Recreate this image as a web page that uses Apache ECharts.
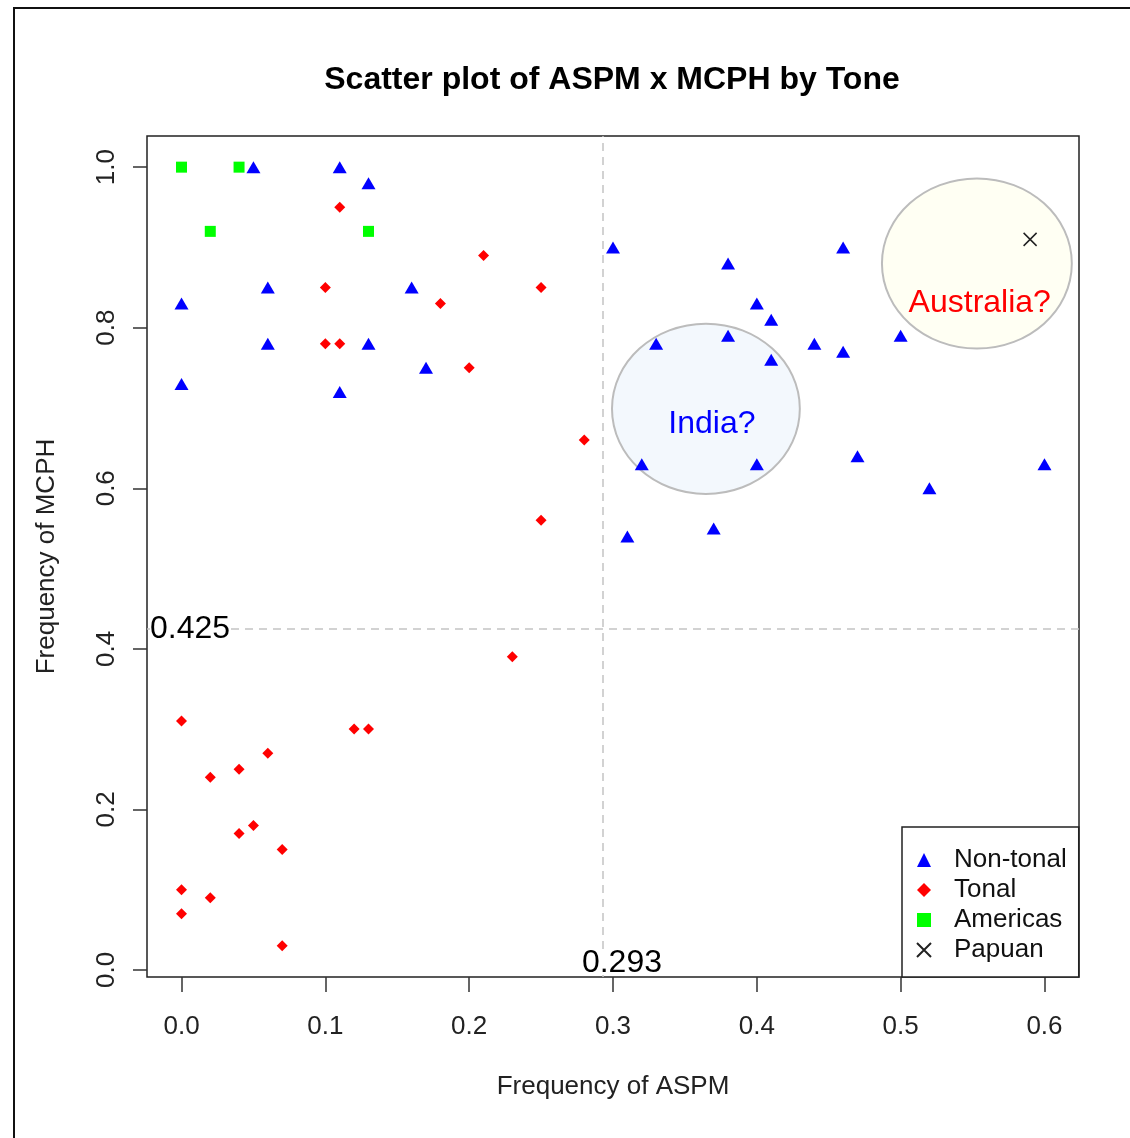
<!DOCTYPE html>
<html>
<head>
<meta charset="utf-8">
<script src="https://cdn.jsdelivr.net/npm/echarts@6/dist/echarts.min.js"></script>
<style>
html,body{margin:0;padding:0;background:#fff;}
#chart{width:1130px;height:1138px;}
</style>
</head>
<body>
<div id="chart"></div>
<script>
// ---- data ----
const chartTitle = 'Scatter plot of ASPM x MCPH by Tone';
const xAxisTitle = 'Frequency of ASPM';
const yAxisTitle = 'Frequency of MCPH';
const seriesNames = ['Non-tonal', 'Tonal', 'Americas', 'Papuan'];

const nonTonalX = [0.05,0.11,0.13,0.00,0.06,0.06,0.00,0.11,0.13,0.16,0.17,0.30,0.38,0.40,0.41,0.33,0.38,0.41,0.44,0.46,0.46,0.50,0.32,0.40,0.47,0.52,0.60,0.31,0.37];
const nonTonalY = [1.00,1.00,0.98,0.83,0.85,0.78,0.73,0.72,0.78,0.85,0.75,0.90,0.88,0.83,0.81,0.78,0.79,0.76,0.78,0.77,0.90,0.79,0.63,0.63,0.64,0.60,0.63,0.54,0.55];

const tonalX = [0.11,0.10,0.10,0.11,0.21,0.18,0.25,0.20,0.28,0.25,0.23,0.00,0.12,0.13,0.06,0.02,0.04,0.04,0.05,0.07,0.00,0.02,0.00,0.07];
const tonalY = [0.95,0.85,0.78,0.78,0.89,0.83,0.85,0.75,0.66,0.56,0.39,0.31,0.30,0.30,0.27,0.24,0.25,0.17,0.18,0.15,0.10,0.09,0.07,0.03];

const americasX = [0.00,0.04,0.02,0.13];
const americasY = [1.00,1.00,0.92,0.92];

const papuanX = [0.59];
const papuanY = [0.91];

const xTicks = [0,0.1,0.2,0.3,0.4,0.5,0.6];
const yTicks = [0,0.2,0.4,0.6,0.8,1.0];

const refX = 0.293;
const refY = 0.425;

const regionLabels = ['India?', 'Australia?'];
const regionCX = [0.3646, 0.553];
const regionCY = [0.699, 0.880];
const regionRX = [0.0653, 0.066];
const regionRY = [0.106, 0.106];
const regionLabelX = [0.3688, 0.555];
const regionLabelY = [0.6804, 0.830];

// ---- helpers ----
const zip = (xs, ys) => xs.map((x, i) => [x, ys[i]]);
const FONT = '"Liberation Sans", Arial, sans-serif';

const chart = echarts.init(document.getElementById('chart'), null, {renderer: 'canvas'});

const option = {
  animation: false,
  backgroundColor: '#ffffff',
  title: {
    text: chartTitle,
    left: 612,
    top: 64,
    textAlign: 'center',
    padding: 0,
    textStyle: {fontFamily: FONT, fontSize: 32, fontWeight: 'bold', color: '#000'}
  },
  grid: {
    left: 147, top: 136, right: 51, bottom: 161,
    show: true, borderColor: '#222', borderWidth: 1.5, backgroundColor: 'transparent'
  },
  xAxis: {
    type: 'value',
    min: -0.024, max: 0.624,
    name: xAxisTitle,
    nameLocation: 'middle',
    nameGap: 97,
    nameTextStyle: {fontFamily: FONT, fontSize: 26, color: '#222'},
    axisLine: {show: false, onZero: false},
    splitLine: {show: false},
    axisTick: {show: true, length: 15, customValues: xTicks, lineStyle: {color: '#333', width: 1.5}},
    axisLabel: {
      customValues: xTicks, margin: 37,
      fontFamily: FONT, fontSize: 26, color: '#222',
      formatter: v => v.toFixed(1)
    }
  },
  yAxis: {
    type: 'value',
    min: -0.0088, max: 1.0388,
    name: yAxisTitle,
    nameLocation: 'middle',
    nameGap: 87,
    nameRotate: 90,
    nameTextStyle: {fontFamily: FONT, fontSize: 26, color: '#222'},
    axisLine: {show: false, onZero: false},
    splitLine: {show: false},
    axisTick: {show: true, length: 14, customValues: yTicks, lineStyle: {color: '#333', width: 1.5}},
    axisLabel: {
      customValues: yTicks, margin: 27, rotate: 90,
      fontFamily: FONT, fontSize: 26, color: '#222',
      formatter: v => v.toFixed(1)
    }
  },
  legend: {
    orient: 'vertical',
    left: 902, top: 827,
    padding: [18, 12, 12, 14],
    itemGap: 0,
    itemWidth: 14, itemHeight: 14,
    borderColor: '#222', borderWidth: 1.5,
    backgroundColor: '#fff',
    selectedMode: false,
    textStyle: {fontFamily: FONT, fontSize: 26, color: '#111', lineHeight: 30, padding: [0, 0, 0, 18]},
    data: [
      {name: seriesNames[0], icon: 'triangle'},
      {name: seriesNames[1], icon: 'diamond'},
      {name: seriesNames[2], icon: 'rect'},
      {name: seriesNames[3], icon: 'path://M0,0L10,10M0,10L10,0'}
    ]
  },
  series: [
    {
      name: seriesNames[0], type: 'scatter',
      symbol: 'triangle', symbolSize: [14, 12],
      itemStyle: {color: '#0000ff', opacity: 1},
      data: zip(nonTonalX, nonTonalY),
      z: 3,
      markLine: {
        silent: true, symbol: 'none', animation: false,
        precision: 4,
        label: {show: false},
        lineStyle: {color: '#c4c4c4', width: 1.5, type: [8, 6]},
        data: [{xAxis: refX}, {yAxis: refY}]
      }
    },
    {
      name: seriesNames[1], type: 'scatter',
      symbol: 'diamond', symbolSize: 11,
      itemStyle: {color: '#ff0000', opacity: 1},
      data: zip(tonalX, tonalY), z: 3
    },
    {
      name: seriesNames[2], type: 'scatter',
      symbol: 'rect', symbolSize: 11,
      itemStyle: {color: '#00ff00', opacity: 1},
      data: zip(americasX, americasY), z: 3
    },
    {
      name: seriesNames[3], type: 'scatter',
      symbol: 'path://M0,0L10,10M0,10L10,0', symbolSize: 13,
      itemStyle: {color: 'rgba(0,0,0,0)', borderColor: '#222', borderWidth: 1.5, opacity: 1},
      data: zip(papuanX, papuanY), z: 3
    }
  ]
};

chart.setOption(option);

// annotations placed through the grid's own coordinate system
const toPx = (x, y) => chart.convertToPixel({gridIndex: 0}, [x, y]);
const graphics = [];
graphics.push({
  type: 'rect', z: 0, silent: true,
  shape: {x: 14, y: 8, width: 1300, height: 1300},
  style: {fill: 'none', stroke: '#111', lineWidth: 2}
});
const fills = ['#f3f8fd', '#fffff3'];
const labelColors = ['#0000ff', '#ff0000'];
for (let i = 0; i < regionLabels.length; i++) {
  const c = toPx(regionCX[i], regionCY[i]);
  const e = toPx(regionCX[i] + regionRX[i], regionCY[i] + regionRY[i]);
  graphics.push({
    type: 'ellipse', z: 1, silent: true,
    shape: {cx: c[0], cy: c[1], rx: Math.abs(e[0] - c[0]), ry: Math.abs(c[1] - e[1])},
    style: {fill: fills[i], stroke: '#bcbcbc', lineWidth: 2}
  });
  const t = toPx(regionLabelX[i], regionLabelY[i]);
  graphics.push({
    type: 'text', z: 10, silent: true,
    x: t[0], y: t[1],
    style: {text: regionLabels[i], fill: labelColors[i], font: '32px ' + FONT, align: 'center', verticalAlign: 'middle'}
  });
}
const py = toPx(0, refY);
graphics.push({
  type: 'text', z: 10, silent: true,
  x: 150, y: py[1],
  style: {text: refY.toFixed(3), fill: '#000', font: '32px ' + FONT, lineHeight: 24, align: 'left', verticalAlign: 'middle', backgroundColor: '#fff'}
});
const px = toPx(refX, 0);
graphics.push({
  type: 'text', z: 10, silent: true,
  x: px[0] + 19, y: px[1] - 7,
  style: {text: refX.toFixed(3), fill: '#000', font: '32px ' + FONT, lineHeight: 24, align: 'center', verticalAlign: 'middle', backgroundColor: '#fff'}
});
chart.setOption({graphic: graphics});
</script>
</body>
</html>
